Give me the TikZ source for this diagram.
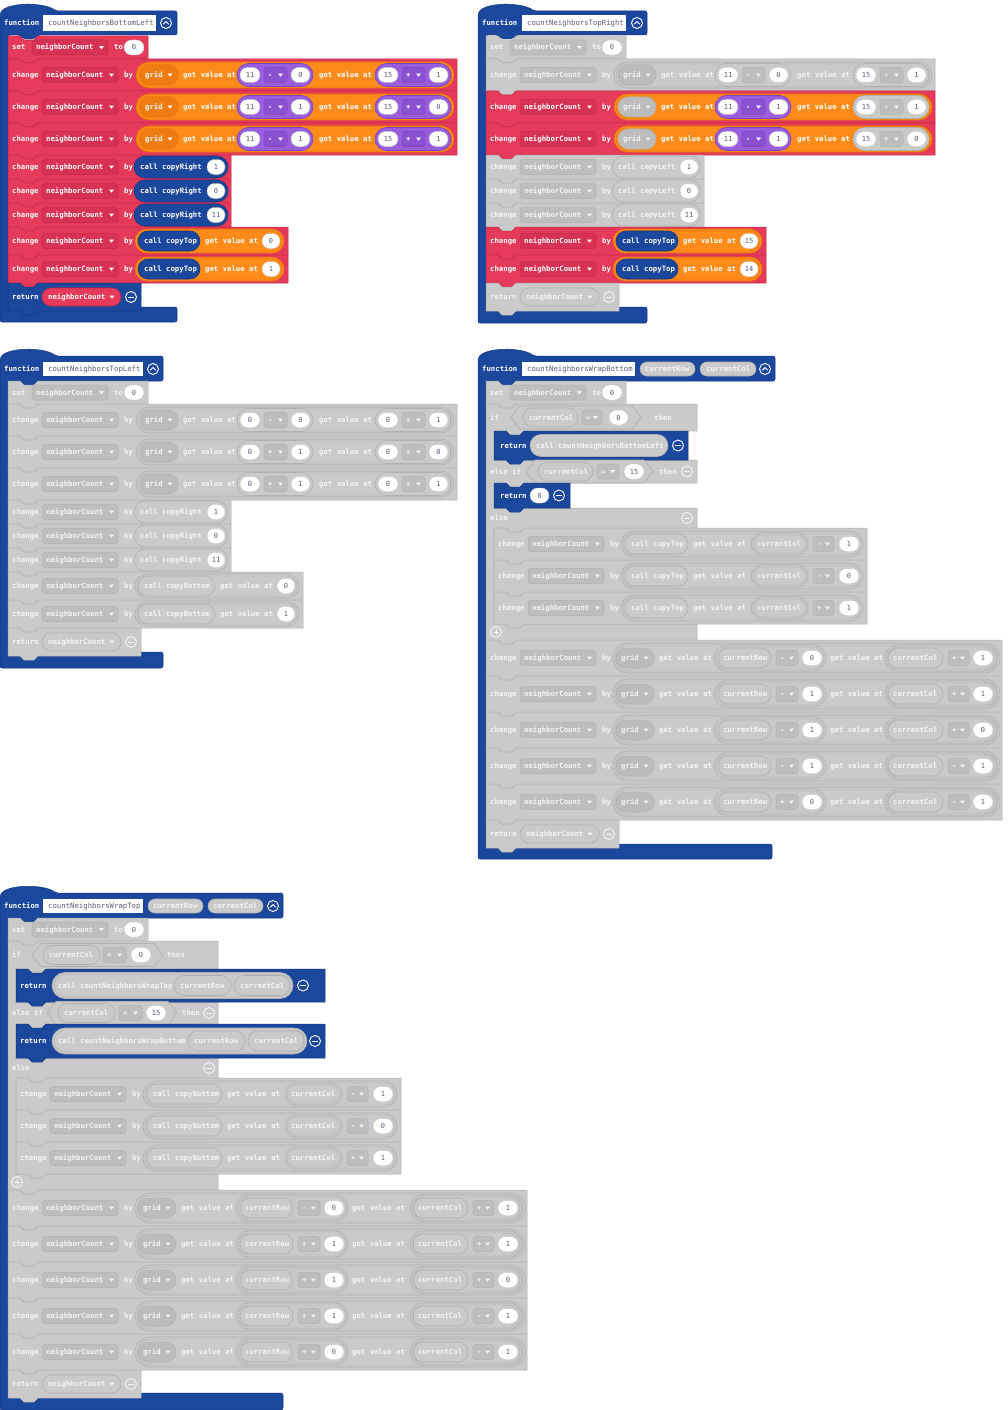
\documentclass[tikz,border=0pt]{standalone}
\usepackage{fontspec}
\usepackage{xcolor}
\newfontfamily\blkfont{DejaVu Sans Mono}

% block colours: f = fill, d = edge, t = text
\definecolor{fR}{HTML}{E63A5A}
\definecolor{dR}{HTML}{C4284A}
\definecolor{tR}{HTML}{FFFFFF}
\definecolor{fO}{HTML}{FF8C1A}
\definecolor{dO}{HTML}{E0700A}
\definecolor{tO}{HTML}{FFFFFF}
\definecolor{fP}{HTML}{9A5DDE}
\definecolor{dP}{HTML}{7A42BE}
\definecolor{tP}{HTML}{FFFFFF}
\definecolor{fB}{HTML}{1B479C}
\definecolor{dB}{HTML}{143781}
\definecolor{tB}{HTML}{FFFFFF}
\definecolor{fG}{HTML}{CACACA}
\definecolor{dG}{HTML}{B0B0B0}
\definecolor{tG}{HTML}{F5F5F5}
\definecolor{numtext}{HTML}{575E75}
\definecolor{numedge}{HTML}{C8C8C8}

\newcounter{nd}
\def\setT#1#2#3#4#5{\def\Ta{#1}\def\Tb{#2}\def\Tg{#3}\def\Tc{#4}\def\Td{#5}}
\def\setTh#1#2#3{\def\Ta{#1}\def\Tb{#2}\def\Tc{#3}}

\tikzset{
  blk/.style={fill=f#1, draw=d#1, line width=0.5pt, line join=round},
  kw/.style={text=t#1, font=\blkfont\bfseries\fontsize{7.3}{8}\selectfont, inner sep=0pt, anchor=base west},
  fld/.style={fill=d#1!45!f#1, draw=d#1, line width=0.5pt},
  pil/.style={fill=f#1, draw=d#1, line width=0.6pt},
  gpil/.style={fill=d#1!55!f#1, draw=d#1, line width=0.5pt},
  ring/.style={draw=d#1, line width=0.4pt},
  numw/.style={fill=white, draw=numedge, line width=0.4pt},
  numt/.style={text=numtext, font=\blkfont\fontsize{7}{8}\selectfont, inner sep=0pt, anchor=base},
  nmt/.style={text=numtext, font=\blkfont\fontsize{7.3}{8}\selectfont, inner sep=0pt, anchor=base west},
  ico/.style={draw=t#1, line width=0.9pt},
}

% pieces
\newcommand{\kw}[4]{\stepcounter{nd}\node[kw=#1] (w\arabic{nd}) at ({#2},{#3+2.5}) {#4};}
\newcommand{\tri}[3]{\fill[fill=t#1] ({#2-2.5},{#3-1.4}) -- ({#2+2.5},{#3-1.4}) -- ({#2},{#3+1.6}) -- cycle;}
\newcommand{\stmt}[5]{\draw[blk=#1] ({#2},{#4}) -- ({#2+12},{#4}) -- ({#2+16},{#4+4}) -- ({#2+26},{#4+4}) -- ({#2+30},{#4}) -- ({#3},{#4}) -- ({#3},{#5}) -- ({#2+30},{#5}) -- ({#2+26},{#5+4}) -- ({#2+16},{#5+4}) -- ({#2+12},{#5}) -- ({#2},{#5}) -- cycle;}
\newcommand{\fld}[5]{\draw[fld=#1, rounded corners=3pt] ({#2},{#4-7.5}) rectangle ({#3},{#4+7.5});
  \kw{#1}{#2+4}{#4}{#5}\tri{#1}{#3-6.5}{#4}}
\newcommand{\pil}[5]{\draw[pil=#1, rounded corners=#5pt] ({#2},{#4-#5}) rectangle ({#3},{#4+#5});}
\newcommand{\pilx}[5]{\pil{#1}{#2}{#3}{#4}{#5}\pgfmathsetmacro\rr{#5-2}%
  \draw[ring=#1, rounded corners=\rr pt] ({#2+2},{#4-#5+2}) rectangle ({#3-2},{#4+#5-2});}
\newcommand{\gpil}[5]{\draw[gpil=#1, rounded corners=10pt] ({#2},{#4-10}) rectangle ({#3},{#4+10});
  \kw{#1}{#2+5}{#4}{#5}\tri{#1}{#3-8}{#4}}
\newcommand{\numc}[4]{\draw[numw, rounded corners=7.5pt] ({#1},{#3-7.5}) rectangle ({#2},{#3+7.5});
  \stepcounter{nd}\node[numt] (v\arabic{nd}) at ({(#1+#2)/2},{#3+2.5}) {#4};}
\newcommand{\hexa}[4]{\draw[pil=#1] ({#2},{#4}) -- ({#2+9},{#4-11.5}) -- ({#3-9},{#4-11.5}) -- ({#3},{#4}) -- ({#3-9},{#4+11.5}) -- ({#2+9},{#4+11.5}) -- cycle;}
\newcommand{\minusic}[3]{\draw[ico=#1] ({#2},{#3}) circle (5.5); \draw[ico=#1] ({#2-2.8},{#3}) -- ({#2+2.8},{#3});}
\newcommand{\plusic}[3]{\draw[ico=#1] ({#2},{#3}) circle (5.5); \draw[ico=#1] ({#2-2.8},{#3}) -- ({#2+2.8},{#3}) ({#2},{#3-2.8}) -- ({#2},{#3+2.8});}
\newcommand{\upic}[2]{\draw[ico=B] ({#1},{#2}) circle (5.5); \draw[ico=B] ({#1-2.6},{#2+1.2}) -- ({#1},{#2-1.4}) -- ({#1+2.6},{#2+1.2});}

% function hat, left bar and foot
\newcommand{\fnHat}[7]{\draw[blk=B, rounded corners=2pt] ({#1},{#2+3}) .. controls ({#1+6},{#2-9}) and ({#1+44},{#2-9}) .. ({#1+56},{#2}) -- ({#4},{#2}) -- ({#4},{#3}) -- ({#1+38},{#3}) -- ({#1+34},{#3+4}) -- ({#1+24},{#3+4}) -- ({#1+20},{#3}) -- ({#1+8},{#3}) -- ({#1+8},{#5}) -- ({#7},{#5}) -- ({#7},{#6}) -- ({#1},{#6}) -- cycle;
  \kw{B}{#1+4}{(#2+#3)/2}{function}}
\newcommand{\fnName}[5]{\fill[white] ({#1},{#3}) rectangle ({#2},{#4});
  \stepcounter{nd}\node[nmt] (f\arabic{nd}) at ({#1+5},{(#3+#4)/2+2.5}) {#5};}

% rows
\newcommand{\chg}[3]{\kw{#3}{#1+4}{#2}{change}\fld{#3}{#1+34}{#1+110}{#2}{neighborCount}\kw{#3}{#1+116}{#2}{by}}
\newcommand{\setrow}[3]{\stmt{#3}{#1+8}{#1+148}{#2-11.5}{#2+11.5}
  \kw{#3}{#1+12}{#2}{set}\fld{#3}{#1+32}{#1+108}{#2}{neighborCount}
  \kw{#3}{#1+114}{#2}{to}\numc{#1+124}{#1+144}{#2}{0}}
\newcommand{\gridN}[9]{\setT#3
  \stmt{\Ta}{#1+8}{#1+457}{#2-16}{#2+16}
  \chg{#1+8}{#2}{\Ta}
  \pilx{\Tb}{#1+136}{#1+454}{#2}{13}
  \gpil{\Tg}{#1+140}{#1+178}{#2}{grid}
  \kw{\Tb}{#1+183}{#2}{get value at}
  \pil{\Tc}{#1+237}{#1+313}{#2}{11.5}
  \numc{#1+240}{#1+260}{#2}{#4}\fld{\Tc}{#1+264}{#1+287}{#2}{#5}\numc{#1+291}{#1+310}{#2}{#6}
  \kw{\Tb}{#1+319}{#2}{get value at}
  \pil{\Td}{#1+375}{#1+451}{#2}{11.5}
  \numc{#1+378}{#1+398}{#2}{#7}\fld{\Td}{#1+402}{#1+425}{#2}{#8}\numc{#1+429}{#1+448}{#2}{#9}}
\newcommand{\callN}[7]{\stmt{#3}{#1+8}{#1+#7+3}{#2-12}{#2+12}
  \chg{#1+8}{#2}{#3}
  \pil{#4}{#1+134}{#1+#7}{#2}{11}\kw{#4}{#1+140}{#2}{call #5}
  \numc{#1+#7-21}{#1+#7-3}{#2}{#6}}
\newcommand{\callV}[6]{\setTh#3
  \stmt{\Ta}{#1+8}{#1+#6+88}{#2-14}{#2+14}
  \chg{#1+8}{#2}{\Ta}
  \pilx{\Tb}{#1+135}{#1+#6+84}{#2}{12}
  \pil{\Tc}{#1+138}{#1+#6}{#2}{10}\kw{\Tc}{#1+144}{#2}{call #4}
  \kw{\Tb}{#1+#6+5}{#2}{get value at}
  \numc{#1+#6+62}{#1+#6+80}{#2}{#5}}
\newcommand{\retN}[4]{\stmt{#3}{#1+8}{#1+141}{#2-14}{#2+14}
  \kw{#3}{#1+12}{#2}{return}
  \pil{#4}{#1+42}{#1+121}{#2}{9}\kw{#4}{#1+48}{#2}{neighborCount}\tri{#4}{#1+112}{#2}
  \minusic{#3}{#1+131}{#2}}
\newcommand{\gridV}[7]{\stmt{G}{#1+8}{#1+#7}{#2-18}{#2+18}
  \chg{#1+8}{#2}{G}
  \pilx{G}{#1+135}{#1+#7-2}{#2}{15}
  \gpil{G}{#1+138}{#1+176}{#2}{grid}
  \kw{G}{#1+181}{#2}{get value at}
  \pilx{G}{#1+236}{#1+348}{#2}{13}
  \pil{G}{#1+240}{#1+293}{#2}{10}\kw{G}{#1+245}{#2}{currentRow}
  \fld{G}{#1+298}{#1+320}{#2}{#3}\numc{#1+324}{#1+344}{#2}{#4}
  \kw{G}{#1+352}{#2}{get value at}
  \pilx{G}{#1+#7-117}{#1+#7-5}{#2}{13}
  \pil{G}{#1+#7-114}{#1+#7-59}{#2}{10}\kw{G}{#1+#7-109}{#2}{currentCol}
  \fld{G}{#1+#7-54}{#1+#7-33}{#2}{#5}\numc{#1+#7-29}{#1+#7-9}{#2}{#6}}
\newcommand{\callW}[6]{\stmt{G}{#1+16}{#1+#4+179}{#2-16}{#2+16}
  \chg{#1+16}{#2}{G}
  \pilx{G}{#1+143}{#1+#4+175}{#2}{13}
  \pil{G}{#1+147}{#1+#4}{#2}{10}\kw{G}{#1+153}{#2}{call #3}
  \kw{G}{#1+#4+5}{#2}{get value at}
  \pilx{G}{#1+#4+63}{#1+#4+120}{#2}{11}\kw{G}{#1+#4+69}{#2}{currentCol}
  \fld{G}{#1+#4+125}{#1+#4+146}{#2}{#5}\numc{#1+#4+151}{#1+#4+171}{#2}{#6}}

\begin{document}
\begin{tikzpicture}[x=1pt, y=-1pt]
  \fill[white] (0,0) rectangle (1007,1410);
  \useasboundingbox (0,0) rectangle (1007,1410);

  % countNeighborsBottomLeft
  \fnHat{0}{11}{35}{177}{307}{322}{177}
  \fnName{43}{156}{15}{31}{countNeighborsBottomLeft}
  \upic{166}{23}
  \setrow{0}{47.5}{R}
  \gridN{0}{75}{ROOPP}{11}{-}{0}{15}{+}{1}
  \gridN{0}{107}{ROOPP}{11}{-}{1}{15}{+}{0}
  \gridN{0}{139}{ROOPP}{11}{-}{1}{15}{+}{1}
  \callN{0}{167}{R}{B}{copyRight}{1}{228}
  \callN{0}{191}{R}{B}{copyRight}{0}{228}
  \callN{0}{215}{R}{B}{copyRight}{11}{228}
  \callV{0}{241}{ROB}{copyTop}{0}{200}
  \callV{0}{269}{ROB}{copyTop}{1}{200}
  \retN{0}{297}{B}{R}

  % countNeighborsTopRight
  \fnHat{478}{11}{35}{647}{307}{323}{647}
  \fnName{522}{626}{15}{31}{countNeighborsTopRight}
  \upic{637}{23}
  \setrow{478}{47.5}{G}
  \gridN{478}{75}{GGGGG}{11}{-}{0}{15}{-}{1}
  \gridN{478}{107}{ROGPG}{11}{-}{1}{15}{-}{1}
  \gridN{478}{139}{ROGPG}{11}{-}{1}{15}{+}{0}
  \callN{478}{167}{G}{G}{copyLeft}{1}{223}
  \callN{478}{191}{G}{G}{copyLeft}{0}{223}
  \callN{478}{215}{G}{G}{copyLeft}{11}{223}
  \callV{478}{241}{ROB}{copyTop}{15}{200}
  \callV{478}{269}{ROB}{copyTop}{14}{200}
  \retN{478}{297}{G}{G}

  % countNeighborsTopLeft
  \fnHat{0}{356}{381}{163}{652}{668}{163}
  \fnName{43}{143}{362}{376}{countNeighborsTopLeft}
  \upic{153}{369}
  \setrow{0}{392.5}{G}
  \gridN{0}{420}{GGGGG}{0}{-}{0}{0}{+}{1}
  \gridN{0}{452}{GGGGG}{0}{+}{1}{0}{+}{0}
  \gridN{0}{484}{GGGGG}{0}{+}{1}{0}{+}{1}
  \callN{0}{512}{G}{G}{copyRight}{1}{228}
  \callN{0}{536}{G}{G}{copyRight}{0}{228}
  \callN{0}{560}{G}{G}{copyRight}{11}{228}
  \callV{0}{586}{GGG}{copyBottom}{0}{215}
  \callV{0}{614}{GGG}{copyBottom}{1}{215}
  \retN{0}{642}{G}{G}

  % countNeighborsWrapBottom
  \fnHat{478}{356}{381}{775}{844}{859}{772}
  \fnName{522}{635}{362}{376}{countNeighborsWrapBottom}
  \pil{G}{640}{695}{369}{7}\kw{G}{645}{369}{currentRow}
  \pil{G}{700}{756}{369}{7}\kw{G}{706}{369}{currentCol}
  \upic{765}{369}
  \setrow{478}{392.5}{G}
  % if / else if / else
  \draw[blk=G] (486,404) -- (498,404) -- (502,408) -- (512,408) -- (516,404) -- (697,404)
    -- (697,431) -- (524,431) -- (520,435) -- (510,435) -- (506,431) -- (494,431)
    -- (494,460) -- (697,460) -- (697,483) -- (524,483) -- (520,487) -- (510,487) -- (506,483) -- (494,483)
    -- (494,508) -- (697,508) -- (697,528) -- (524,528) -- (520,532) -- (510,532) -- (506,528) -- (494,528)
    -- (494,624) -- (697,624) -- (697,640) -- (516,640) -- (512,644) -- (502,644) -- (498,640) -- (486,640) -- cycle;
  \kw{G}{490}{417.5}{if}
  \hexa{G}{511}{641}{417.5}
  \pil{G}{523}{578}{417.5}{9.5}\kw{G}{529}{417.5}{currentCol}
  \fld{G}{582}{602}{417.5}{=}
  \numc{609}{628}{417.5}{0}
  \kw{G}{654}{417.5}{then}
  \stmt{B}{494}{688}{431}{460}
  \kw{B}{500}{445.5}{return}
  \pil{G}{530}{668}{445.5}{11}\kw{G}{536}{445.5}{call countNeighborsBottomLeft}
  \minusic{B}{678}{445.5}
  \kw{G}{490}{471.5}{else if}
  \hexa{G}{526}{653}{471.5}
  \pil{G}{538}{593}{471.5}{9.5}\kw{G}{544}{471.5}{currentCol}
  \fld{G}{597}{619}{471.5}{=}
  \numc{624}{644}{471.5}{15}
  \kw{G}{659}{471.5}{then}
  \minusic{G}{687}{471.5}
  \stmt{B}{494}{570}{483}{508}
  \kw{B}{500}{495.5}{return}
  \numc{530}{549}{495.5}{0}
  \minusic{B}{559}{495.5}
  \kw{G}{490}{518}{else}
  \minusic{G}{687}{518}
  \callW{478}{544}{copyTop}{210}{-}{1}
  \callW{478}{576}{copyTop}{210}{-}{0}
  \callW{478}{608}{copyTop}{210}{+}{1}
  \plusic{G}{496}{632}
  \gridV{478}{658}{-}{0}{+}{1}{524}
  \gridV{478}{694}{-}{1}{+}{1}{524}
  \gridV{478}{730}{-}{1}{+}{0}{524}
  \gridV{478}{766}{-}{1}{-}{1}{524}
  \gridV{478}{802}{+}{0}{-}{1}{524}
  \retN{478}{834}{G}{G}

  % countNeighborsWrapTop
  \fnHat{0}{893}{918}{283}{1393}{1410}{283}
  \fnName{43}{143}{899}{913}{countNeighborsWrapTop}
  \pil{G}{148}{203}{906}{7}\kw{G}{153}{906}{currentRow}
  \pil{G}{208}{263}{906}{7}\kw{G}{213}{906}{currentCol}
  \upic{273}{906}
  \setrow{0}{929.5}{G}
  % if / else if / else
  \draw[blk=G] (8,941) -- (20,941) -- (24,945) -- (34,945) -- (38,941) -- (218,941)
    -- (218,969) -- (46,969) -- (42,973) -- (32,973) -- (28,969) -- (16,969)
    -- (16,1002) -- (218,1002) -- (218,1024) -- (46,1024) -- (42,1028) -- (32,1028) -- (28,1024) -- (16,1024)
    -- (16,1058) -- (218,1058) -- (218,1078) -- (46,1078) -- (42,1082) -- (32,1082) -- (28,1078) -- (16,1078)
    -- (16,1174) -- (218,1174) -- (218,1190) -- (38,1190) -- (34,1194) -- (24,1194) -- (20,1190) -- (8,1190) -- cycle;
  \kw{G}{12}{955}{if}
  \hexa{G}{32}{163}{955}
  \pil{G}{43}{100}{955}{9.5}\kw{G}{49}{955}{currentCol}
  \fld{G}{103}{126}{955}{=}
  \numc{131}{151}{955}{0}
  \kw{G}{167}{955}{then}
  \stmt{B}{16}{325}{969}{1002}
  \kw{B}{20}{985.5}{return}
  \pilx{G}{52}{293}{985.5}{13}
  \kw{G}{58}{985.5}{call countNeighborsWrapTop}
  \pil{G}{174}{231}{985.5}{10}\kw{G}{180}{985.5}{currentRow}
  \pil{G}{234}{290}{985.5}{10}\kw{G}{240}{985.5}{currentCol}
  \minusic{B}{303}{985.5}
  \kw{G}{12}{1013}{else if}
  \hexa{G}{47}{177}{1013}
  \pil{G}{58}{115}{1013}{9.5}\kw{G}{64}{1013}{currentCol}
  \fld{G}{119}{142}{1013}{=}
  \numc{146}{166}{1013}{15}
  \kw{G}{182}{1013}{then}
  \minusic{G}{209}{1013}
  \stmt{B}{16}{325}{1024}{1058}
  \kw{B}{20}{1041}{return}
  \pilx{G}{52}{307}{1041}{13}
  \kw{G}{58}{1041}{call countNeighborsWrapBottom}
  \pil{G}{188}{245}{1041}{10}\kw{G}{194}{1041}{currentRow}
  \pil{G}{248}{304}{1041}{10}\kw{G}{254}{1041}{currentCol}
  \minusic{B}{315}{1041}
  \kw{G}{12}{1068}{else}
  \minusic{G}{209}{1068}
  \callW{0}{1094}{copyBottom}{222}{-}{1}
  \callW{0}{1126}{copyBottom}{222}{-}{0}
  \callW{0}{1158}{copyBottom}{222}{+}{1}
  \plusic{G}{17}{1182}
  \gridV{0}{1208}{-}{0}{+}{1}{527}
  \gridV{0}{1244}{+}{1}{+}{1}{527}
  \gridV{0}{1280}{+}{1}{+}{0}{527}
  \gridV{0}{1316}{+}{1}{-}{1}{527}
  \gridV{0}{1352}{+}{0}{-}{1}{527}
  \retN{0}{1384}{G}{G}
\end{tikzpicture}
\end{document}
